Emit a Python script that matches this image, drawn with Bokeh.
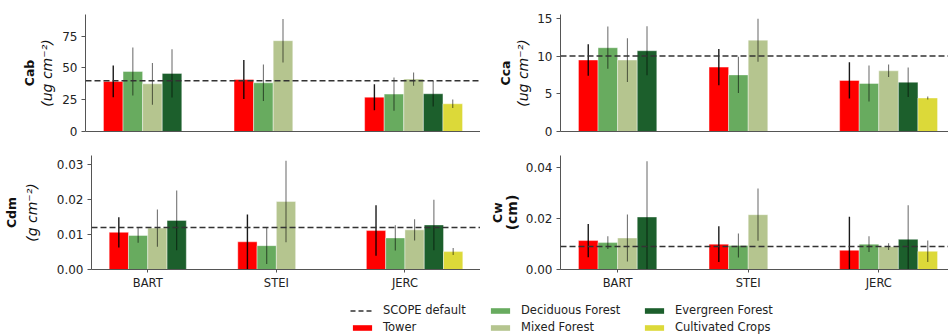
import math
from bokeh.plotting import figure
from bokeh.models import (Range1d, Span, LinearAxis, FixedTicker, Legend, LegendItem,
                          ColumnDataSource, PrintfTickFormatter)
from bokeh.layouts import column, row
from bokeh.embed import file_html
from bokeh.resources import INLINE

nan = float("nan")

# ---------------- data ----------------
sites = ["BART", "STEI", "JERC"]
classes = ["Tower", "Deciduous Forest", "Mixed Forest", "Evergreen Forest", "Cultivated Crops"]
colors = ["#ff0000", "#68ab5f", "#b5c58f", "#1c5f2c", "#dcd939"]

# rows = classes, columns = sites
cab_mean = [[39.4, 40.9, 27.0], [47.2, 38.3, 29.4], [37.5, 71.4, 41.2], [45.7, nan, 29.7], [nan, nan, 21.8]]
cab_err = [[12.4, 15.4, 10.2], [18.8, 14.4, 13.0], [16.4, 17.1, 5.2], [19.0, nan, 10.0], [nan, nan, 3.4]]

cca_mean = [[9.47, 8.53, 6.76], [11.1, 7.5, 6.36], [9.47, 12.1, 8.04], [10.7, nan, 6.53], [nan, nan, 4.44]]
cca_err = [[2.1, 2.4, 2.4], [2.8, 2.4, 2.4], [2.9, 2.85, 0.83], [3.25, nan, 1.95], [nan, nan, 0.2]]

cdm_mean = [[0.0106, 0.0079, 0.0111], [0.0097, 0.0068, 0.0090], [0.0118, 0.0194, 0.0113],
            [0.0140, nan, 0.0127], [nan, nan, 0.0051]]
cdm_err = [[0.0043, 0.0078, 0.0072], [0.0021, 0.0052, 0.0036], [0.0053, 0.0116, 0.0030],
           [0.0085, nan, 0.0072], [nan, nan, 0.0010]]

cw_mean = [[0.0113, 0.0099, 0.0075], [0.0105, 0.0094, 0.0099], [0.0123, 0.0214, 0.0089],
           [0.0205, nan, 0.0118], [nan, nan, 0.0071]]
cw_err = [[0.0065, 0.0070, 0.0131], [0.0025, 0.0047, 0.0031], [0.0092, 0.0102, 0.0013],
          [0.0218, nan, 0.0133], [nan, nan, 0.0042]]

scope_default = [40, 10, 0.012, 0.009]

cab_ticks = [0, 25, 50, 75]
cca_ticks = [0, 5, 10, 15]
cdm_ticks = [0, 0.01, 0.02, 0.03]
cw_ticks = [0, 0.02, 0.04]

# ---------------- style / layout ----------------
FONT = "DejaVu Sans"
BAR_W = 0.15
OFFSETS = [-1.5, -0.5, 0.5, 1.5, 2.5]
X0 = -0.4375
PPU = 395 / 3.025  # pixels per category unit
AXIS_COLOR = "#555555"
TEXT_COLOR = "#222222"


def make_panel(mean, err, default, ymax, ticks, fmt, main_label, unit_label, unit_style,
               show_x, width, left_border, frame_w, height, top_b, bot_b,
               std_in, std_out):
    p = figure(width=width, height=height,
               x_range=Range1d(X0, X0 + frame_w / PPU), y_range=Range1d(0, ymax),
               output_backend="svg", toolbar_location=None,
               min_border_left=left_border, min_border_right=0,
               min_border_top=top_b, min_border_bottom=bot_b)
    p.outline_line_color = None
    p.grid.visible = False
    p.background_fill_color = "white"

    for j, cls in enumerate(classes):
        xs, tops, los, his = [], [], [], []
        for i in range(len(sites)):
            m = mean[j][i]
            if math.isnan(m):
                continue
            e = err[j][i]
            xs.append(i + OFFSETS[j] * BAR_W)
            tops.append(m)
            los.append(m - e)
            his.append(m + e)
        src = ColumnDataSource(dict(x=xs, top=tops, lo=los, hi=his))
        p.vbar(x="x", top="top", width=BAR_W, source=src, fill_color=colors[j],
               line_color="white", line_width=0.6, line_alpha=0.7)
        if j == 0:
            p.segment(x0="x", y0="lo", x1="x", y1="hi", source=src,
                      line_color="black", line_alpha=0.9, line_width=1.4)
        else:
            p.segment(x0="x", y0="lo", x1="x", y1="hi", source=src,
                      line_color="black", line_alpha=0.55, line_width=1.1)

    p.add_layout(Span(location=default, dimension="width", line_dash="6 3",
                      line_color="#333333", line_width=1.5))

    # x axis
    xa = p.xaxis[0]
    xa.axis_line_color = AXIS_COLOR
    xa.minor_tick_line_color = None
    if show_x:
        xa.ticker = FixedTicker(ticks=list(range(len(sites))))
        xa.major_label_overrides = {i: s for i, s in enumerate(sites)}
        xa.major_tick_out = 3
        xa.major_tick_in = 0
        xa.major_tick_line_color = AXIS_COLOR
        xa.major_label_standoff = 3
        xa.major_label_text_font = FONT
        xa.major_label_text_font_size = "11.5px"
        xa.major_label_text_color = TEXT_COLOR
    else:
        xa.ticker = FixedTicker(ticks=[])
        xa.major_tick_line_color = None

    # y axis (inner, with ticks and unit label)
    ya = p.yaxis[0]
    ya.ticker = FixedTicker(ticks=ticks)
    ya.formatter = PrintfTickFormatter(format=fmt)
    ya.axis_line_color = AXIS_COLOR
    ya.major_tick_line_color = AXIS_COLOR
    ya.minor_tick_line_color = None
    ya.major_tick_out = 4
    ya.major_tick_in = 0
    ya.major_label_standoff = 4
    ya.major_label_text_font = FONT
    ya.major_label_text_font_size = "12px"
    ya.major_label_text_color = TEXT_COLOR
    ya.axis_label = unit_label
    ya.axis_label_text_font = FONT
    ya.axis_label_text_font_size = "14px"
    ya.axis_label_text_font_style = unit_style
    ya.axis_label_text_color = "#111111"
    ya.axis_label_standoff = std_in

    # outer axis carrying only the bold variable name
    outer = LinearAxis(ticker=FixedTicker(ticks=[]), axis_label=main_label,
                       axis_line_color=None, major_tick_line_color=None,
                       minor_tick_line_color=None, major_tick_out=0, major_tick_in=0,
                       major_label_standoff=0, axis_label_standoff=std_out,
                       axis_label_text_font=FONT, axis_label_text_font_size="12.5px",
                       axis_label_text_font_style="bold", axis_label_text_color="#111111")
    p.add_layout(outer, "left")
    return p


LEFT_W, LEFT_B, LEFT_F = 480, 85, 395
RIGHT_W, RIGHT_B, RIGHT_F = 468, 80, 388
TOP_H, TOP_T, TOP_BOT = 143, 14, 12
BOT_H, BOT_T, BOT_BOT = 149, 12, 20

p_cab = make_panel(cab_mean, cab_err, scope_default[0], 92, cab_ticks, "%d",
                   "Cab", "(ug cm\u207b\u00b2)", "italic", False,
                   LEFT_W, LEFT_B, LEFT_F, TOP_H, TOP_T, TOP_BOT, 4, 0)
p_cca = make_panel(cca_mean, cca_err, scope_default[1], 15.5, cca_ticks, "%d",
                   "Cca", "(ug cm\u207b\u00b2)", "italic", False,
                   RIGHT_W, RIGHT_B, RIGHT_F, TOP_H, TOP_T, TOP_BOT, 3, 0)
p_cdm = make_panel(cdm_mean, cdm_err, scope_default[2], 0.0325, cdm_ticks, "%.2f",
                   "Cdm", "(g cm\u207b\u00b2)", "italic", True,
                   LEFT_W, LEFT_B, LEFT_F, BOT_H, BOT_T, BOT_BOT, 14, 2)
p_cw = make_panel(cw_mean, cw_err, scope_default[3], 0.0445, cw_ticks, "%.2f",
                  "Cw", "(cm)", "bold", True,
                  RIGHT_W, RIGHT_B, RIGHT_F, BOT_H, BOT_T, BOT_BOT, 3, -4)

# ---------------- legend strip ----------------
lf = figure(width=LEFT_W + RIGHT_W, height=43, x_range=Range1d(0, 1), y_range=Range1d(0, 1),
            output_backend="svg", toolbar_location=None, min_border=0,
            x_axis_location=None, y_axis_location=None)
lf.outline_line_color = None
lf.grid.visible = False

# legend proxies (NaN data: nothing is drawn in the strip itself)
r_def = lf.line(x=[nan], y=[nan], line_dash="5 3", line_color="#333333", line_width=1.5)
r_cls = [lf.vbar(x=[nan], top=[nan], width=0.1, fill_color=c, line_color=None) for c in colors]

legend_cols = [
    ([("SCOPE default", r_def), (classes[0], r_cls[0])], 350),
    ([(classes[1], r_cls[1]), (classes[2], r_cls[2])], 488),
    ([(classes[3], r_cls[3]), (classes[4], r_cls[4])], 642),
]
for items, xloc in legend_cols:
    lg = Legend(items=[LegendItem(label=lab, renderers=[r]) for lab, r in items],
                location=(xloc, 1), orientation="vertical",
                padding=0, margin=0, spacing=3,
                glyph_width=24, glyph_height=7, label_height=14, label_standoff=9,
                label_text_font=FONT, label_text_font_size="11.5px",
                label_text_color=TEXT_COLOR,
                background_fill_alpha=0, border_line_alpha=0)
    lf.add_layout(lg)

layout = column(row(p_cab, p_cca), row(p_cdm, p_cw), lf)

with open("out.html", "w") as f:
    f.write(file_html(layout, INLINE))
